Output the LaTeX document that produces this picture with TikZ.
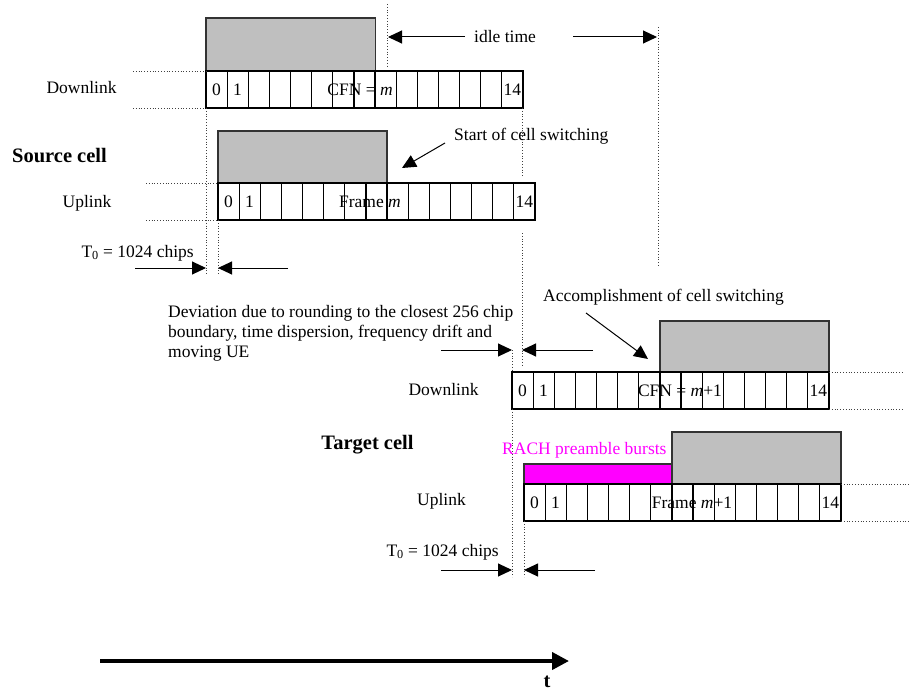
\documentclass[tikz,border=0pt]{standalone}
\usepackage{fontspec}
\setmainfont{Liberation Serif}
\usetikzlibrary{arrows.meta}
\definecolor{rachpink}{RGB}{255,0,255}

\begin{document}
\begin{tikzpicture}[x=1pt,y=-1pt,
  slot/.style={draw,line width=1.2pt},
  busy/.style={draw=black!80,fill=black!25,line width=1.2pt},
  rach/.style={draw=black!80,fill=rachpink,line width=1.2pt},
  guide/.style={dotted,line width=0.8pt,black!75},
  lbl/.style={font=\fontsize{17.5}{20}\selectfont,inner sep=0pt},
  cell/.style={font=\fontsize{20.5}{24}\selectfont\bfseries,inner sep=0pt},
  >={Triangle[length=14pt,width=13pt]},
  ptr/.style={->,line width=1pt}]
\useasboundingbox (0,0) rectangle (909,693);

% source cell, downlink
\draw[busy] (206,18) rectangle (375.5,71);
\draw[slot] (206,71) rectangle ++(317,37);
\foreach \i in {1,...,14}
  \draw[slot] ({206+21.13*\i},71) -- ++(0,37);
\node[lbl] (sdl0) at (216.5,90) {0};
\node[lbl] (sdl1) at (237.6,90) {1};
\node[lbl] (sdl14) at (512.4,90) {14};
\node[lbl] (sdlcfn) at (360,90) {CFN = \textit{m}};
\node[lbl] (sdl) at (81.5,88) {Downlink};
\draw[guide] (133,71) -- (206,71) (133,108) -- (206,108);

% source cell, uplink
\draw[busy] (218,131) rectangle (387,183);
\draw[slot] (218,183) rectangle ++(317,37);
\foreach \i in {1,...,14}
  \draw[slot] ({218+21.13*\i},183) -- ++(0,37);
\node[lbl] (sul0) at (228.5,202) {0};
\node[lbl] (sul1) at (249.6,202) {1};
\node[lbl] (sul14) at (524.4,202) {14};
\node[lbl] (sulfr) at (370,202) {Frame \textit{m}};
\node[lbl] (sul) at (87,203) {Uplink};
\draw[guide] (146,183) -- (218,183) (146,220) -- (218,220);
\node[cell] (src) at (59.5,156) {Source cell};

% timing guides
\draw[guide] (387,4) -- (387,66);
\draw[guide] (658,27) -- (658,267);
\draw[guide] (206,108) -- (206,275);
\draw[guide] (218,220) -- (218,275);
\draw[guide] (522,108) -- (522,177) (522,233) -- (522,365);

\coordinate (idleA) at (465,37);  \coordinate (idleB) at (388,37);
\coordinate (idleC) at (573,37);  \coordinate (idleD) at (657,37);
\node[lbl] (idle) at (505,37) {idle time};
\draw[ptr] (idleA) -- (idleB);
\draw[ptr] (idleC) -- (idleD);

\coordinate (sT0a) at (135,268); \coordinate (sT0b) at (206,268);
\coordinate (sT0c) at (288,268); \coordinate (sT0d) at (218,268);
\node[lbl,anchor=east] (sT0) at (194,253) {T\textsubscript{0} = 1024 chips};
\draw[ptr] (sT0a) -- (sT0b);
\draw[ptr] (sT0c) -- (sT0d);

\node[lbl,anchor=west] (start) at (454,136) {Start of cell switching};
\coordinate (startA) at (445,143); \coordinate (startB) at (402,168);
\draw[ptr] (startA) -- (startB);

% deviation
\node[lbl,anchor=west,align=left] (dev) at (168,333)
  {Deviation due to rounding to the closest 256 chip\\
   boundary, time dispersion, frequency drift and\\
   moving UE};
\coordinate (devA) at (441,350); \coordinate (devB) at (512,350);
\coordinate (devC) at (593,350); \coordinate (devD) at (522,350);
\draw[ptr] (devA) -- (devB);
\draw[ptr] (devC) -- (devD);

\node[lbl,anchor=west] (acc) at (543,297) {Accomplishment of cell switching};
\coordinate (accA) at (586,313); \coordinate (accB) at (648,359);
\draw[ptr] (accA) -- (accB);

% target cell, downlink
\draw[busy] (660,321) rectangle (829,372);
\draw[slot] (512,372) rectangle ++(317,37);
\foreach \i in {1,...,14}
  \draw[slot] ({512+21.13*\i},372) -- ++(0,37);
\node[lbl] (tdl0) at (522.5,391) {0};
\node[lbl] (tdl1) at (543.6,391) {1};
\node[lbl] (tdl14) at (818.4,391) {14};
\node[lbl] (tdlcfn) at (680,391) {CFN = \textit{m}+1};
\node[lbl] (tdl) at (443.5,390) {Downlink};
\draw[guide] (829,372) -- (904,372) (829,409) -- (904,409);
\draw[guide] (512,350) -- (512,372) (512,409) -- (512,577);

% target cell, uplink
\draw[rach] (524,464) rectangle (672,484);
\draw[busy] (672,432) rectangle (841,484);
\draw[slot] (524,484) rectangle ++(317,37);
\foreach \i in {1,...,14}
  \draw[slot] ({524+21.13*\i},484) -- ++(0,37);
\node[lbl] (tul0) at (534.5,503) {0};
\node[lbl] (tul1) at (555.6,503) {1};
\node[lbl] (tul14) at (830.4,503) {14};
\node[lbl] (tulfr) at (692,503) {Frame \textit{m}+1};
\node[lbl] (tul) at (441.5,501) {Uplink};
\draw[guide] (841,484) -- (909,484) (841,521) -- (909,521);
\draw[guide] (524,521) -- (524,577);
\node[cell] (tgt) at (367.5,445) {Target cell};
\node[lbl,anchor=west,text=rachpink] (rachtxt) at (502,450) {RACH preamble bursts};

\coordinate (tT0a) at (441,570); \coordinate (tT0b) at (512,570);
\coordinate (tT0c) at (595,570); \coordinate (tT0d) at (524,570);
\node[lbl,anchor=east] (tT0) at (499,552) {T\textsubscript{0} = 1024 chips};
\draw[ptr] (tT0a) -- (tT0b);
\draw[ptr] (tT0c) -- (tT0d);

% time axis
\coordinate (axA) at (100,661); \coordinate (axB) at (569,661);
\draw[line width=4pt,-{Triangle[length=17pt,width=17pt]}] (axA) -- (axB);
\node[cell] (t) at (547,682) {t};
\end{tikzpicture}
\end{document}
